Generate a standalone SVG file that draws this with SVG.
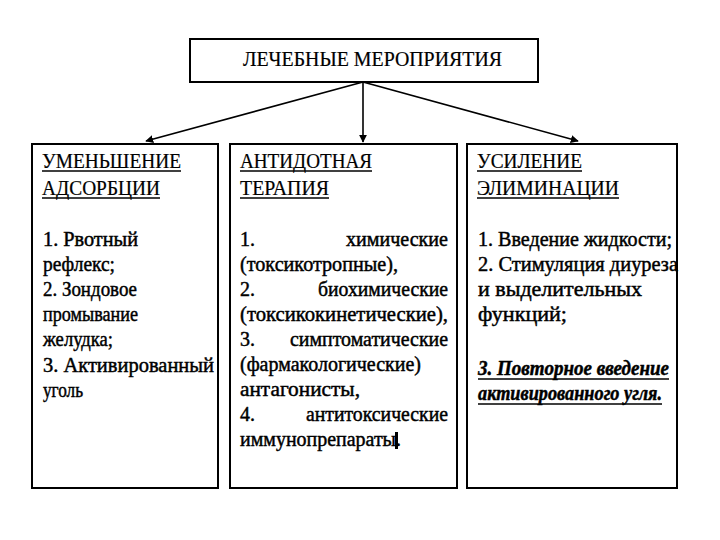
<svg xmlns="http://www.w3.org/2000/svg" width="720" height="540" viewBox="0 0 720 540" font-family="Liberation Serif, DejaVu Serif, serif">
<style>
.box{fill:#fff;stroke:#000;stroke-width:2}
.t{font-size:20px;fill:#000}
.h{stroke:#000;stroke-width:0.2}
.i{stroke:#000;stroke-width:0.45}
.u{stroke:#000;stroke-width:1.3}
.c{stroke:#000;stroke-width:1.6;fill:none}
</style>
<defs>
<marker id="ah" viewBox="0 0 10 10" refX="9" refY="5" markerWidth="5" markerHeight="5" orient="auto" markerUnits="strokeWidth">
<path d="M0,0 L10,5 L0,10 z" fill="#000"/>
</marker>
</defs>
<rect width="720" height="540" fill="#fff"/>
<g id="connectors">
<line class="c" x1="363" y1="82" x2="146" y2="141" marker-end="url(#ah)"/>
<line class="c" x1="363" y1="82" x2="363" y2="142" marker-end="url(#ah)"/>
<line class="c" x1="363" y1="82" x2="578" y2="141" marker-end="url(#ah)"/>
</g>
<g id="top" font-family="Liberation Serif, serif">
<rect class="box" x="190" y="39" width="348" height="43"/>
<text class="t h" x="243" y="66" textLength="259" lengthAdjust="spacingAndGlyphs">ЛЕЧЕБНЫЕ МЕРОПРИЯТИЯ</text>
</g>
<g id="left" font-family="Liberation Serif, serif">
<rect class="box" x="32" y="144" width="186" height="344"/>
<text class="t h" x="42" y="168" textLength="139" lengthAdjust="spacingAndGlyphs">УМЕНЬШЕНИЕ</text>
<line class="u" x1="42" y1="171" x2="181" y2="171"/>
<text class="t h" x="42" y="195" textLength="118" lengthAdjust="spacingAndGlyphs">АДСОРБЦИИ</text>
<line class="u" x1="42" y1="198" x2="160" y2="198"/>
<text class="t i" x="43" y="246" textLength="95" lengthAdjust="spacingAndGlyphs">1. Рвотный</text>
<text class="t i" x="43" y="271" textLength="72" lengthAdjust="spacingAndGlyphs">рефлекс;</text>
<text class="t i" x="43" y="296" textLength="94" lengthAdjust="spacingAndGlyphs">2. Зондовое</text>
<text class="t i" x="43" y="321" textLength="95" lengthAdjust="spacingAndGlyphs">промывание</text>
<text class="t i" x="43" y="346" textLength="70" lengthAdjust="spacingAndGlyphs">желудка;</text>
<text class="t i" x="43" y="372" textLength="171" lengthAdjust="spacingAndGlyphs">3. Активированный</text>
<text class="t i" x="43" y="397" textLength="40" lengthAdjust="spacingAndGlyphs">уголь</text>
</g>
<g id="middle" font-family="Liberation Serif, serif">
<rect class="box" x="230" y="144" width="227" height="344"/>
<text class="t h" x="240" y="168" textLength="132" lengthAdjust="spacingAndGlyphs">АНТИДОТНАЯ</text>
<line class="u" x1="240" y1="171" x2="372" y2="171"/>
<text class="t h" x="240" y="195" textLength="89" lengthAdjust="spacingAndGlyphs">ТЕРАПИЯ</text>
<line class="u" x1="240" y1="198" x2="329" y2="198"/>
<text class="t i" x="240" y="246">1.</text>
<text class="t i" x="448" y="246" text-anchor="end" textLength="102" lengthAdjust="spacingAndGlyphs">химические</text>
<text class="t i" x="240" y="271" textLength="158" lengthAdjust="spacingAndGlyphs">(токсикотропные),</text>
<text class="t i" x="240" y="296">2.</text>
<text class="t i" x="448" y="296" text-anchor="end" textLength="130" lengthAdjust="spacingAndGlyphs">биохимические</text>
<text class="t i" x="240" y="321" textLength="208" lengthAdjust="spacingAndGlyphs">(токсикокинетические),</text>
<text class="t i" x="240" y="346">3.</text>
<text class="t i" x="448" y="346" text-anchor="end" textLength="158" lengthAdjust="spacingAndGlyphs">симптоматические</text>
<text class="t i" x="240" y="371" textLength="181" lengthAdjust="spacingAndGlyphs">(фармакологические)</text>
<text class="t i" x="240" y="396" textLength="120" lengthAdjust="spacingAndGlyphs">антагонисты,</text>
<text class="t i" x="240" y="421">4.</text>
<text class="t i" x="448" y="421" text-anchor="end" textLength="142" lengthAdjust="spacingAndGlyphs">антитоксические</text>
<text class="t i" x="240" y="446" textLength="161" lengthAdjust="spacingAndGlyphs">иммунопрепараты.</text>
<rect x="395" y="432" width="3" height="17" fill="#000"/>
</g>
<g id="right" font-family="Liberation Serif, serif">
<rect class="box" x="467" y="144" width="210" height="344"/>
<text class="t h" x="477" y="168" textLength="105" lengthAdjust="spacingAndGlyphs">УСИЛЕНИЕ</text>
<line class="u" x1="477" y1="171" x2="582" y2="171"/>
<text class="t h" x="477" y="195" textLength="142" lengthAdjust="spacingAndGlyphs">ЭЛИМИНАЦИИ</text>
<line class="u" x1="477" y1="198" x2="619" y2="198"/>
<text class="t i" x="478" y="246" textLength="194" lengthAdjust="spacingAndGlyphs">1. Введение жидкости;</text>
<text class="t i" x="478" y="271" textLength="200" lengthAdjust="spacingAndGlyphs">2. Стимуляция диуреза</text>
<text class="t i" x="478" y="296" textLength="164" lengthAdjust="spacingAndGlyphs">и выделительных</text>
<text class="t i" x="478" y="321" textLength="89" lengthAdjust="spacingAndGlyphs">функций;</text>
<text class="t i" x="478" y="375" font-style="italic" font-weight="bold" textLength="191" lengthAdjust="spacingAndGlyphs">3. Повторное введение</text>
<line class="u" x1="478" y1="379" x2="669" y2="379"/>
<text class="t i" x="478" y="400" font-style="italic" font-weight="bold" textLength="184" lengthAdjust="spacingAndGlyphs">активированного угля.</text>
<line class="u" x1="478" y1="404" x2="662" y2="404"/>
</g>
</svg>
